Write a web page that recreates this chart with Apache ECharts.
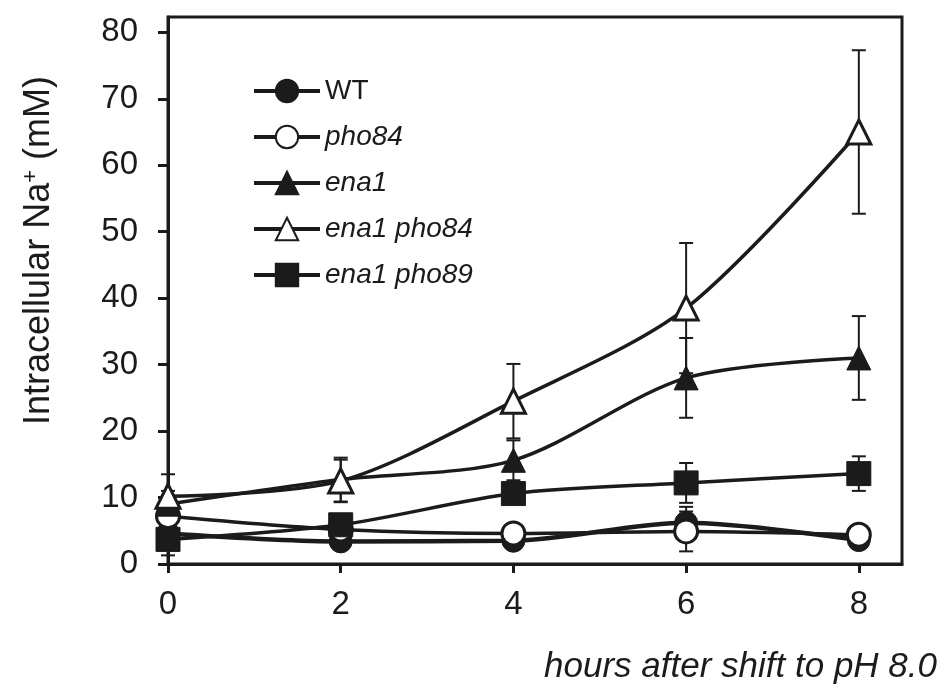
<!DOCTYPE html>
<html>
<head>
<meta charset="utf-8">
<title>Intracellular Na+</title>
<script src="https://cdn.jsdelivr.net/npm/echarts@6/dist/echarts.min.js"></script>
<style>
  html, body { margin: 0; padding: 0; background: #fff; }
  #chart { width: 941px; height: 695px; }
</style>
</head>
<body>
<div id="chart"></div>
<script>
// 数据（从图上读出来的）
const hours = [0, 2, 4, 6, 8];
const yTicks = [0, 10, 20, 30, 40, 50, 60, 70, 80];
const xTicks = [0, 2, 4, 6, 8];

const wt = [4.6, 3.4, 3.5, 6.2, 3.6];
const wtErr = [0.8, 0.5, 0.5, 2.4, 0.6];
const pho84 = [7.2, 5.2, 4.6, 4.9, 4.4];
const pho84Err = [1.0, 0.8, 0.6, 3.0, 0.6];
const ena1 = [9.0, 12.7, 15.6, 28.0, 31.0];
const ena1Err = [2.0, 3.3, 3.0, 6.0, 6.3];
const ena1pho84 = [10.2, 12.5, 24.5, 38.5, 65.0];
const ena1pho84Err = [3.3, 3.2, 5.6, 9.8, 12.3];
const ena1pho89 = [3.7, 5.9, 10.6, 12.2, 13.6];
const ena1pho89Err = [2.4, 1.0, 1.0, 3.0, 2.6];

const names = ['WT', 'pho84', 'ena1', 'ena1 pho84', 'ena1 pho89'];

const INK = '#1b1b1b';
const FONT = '"Liberation Sans", Arial, sans-serif';

// 每条线：名字、数值、误差、标记形状、是否空心
const lines = [
  { name: 'WT', vals: wt, errs: wtErr, symbol: 'circle', open: false, width: 4.5 },
  { name: 'pho84', vals: pho84, errs: pho84Err, symbol: 'circle', open: true, width: 3.5 },
  { name: 'ena1', vals: ena1, errs: ena1Err, symbol: 'triangle', open: false, width: 3.5 },
  { name: 'ena1 pho84', vals: ena1pho84, errs: ena1pho84Err, symbol: 'triangle', open: true, width: 3.5 },
  { name: 'ena1 pho89', vals: ena1pho89, errs: ena1pho89Err, symbol: 'rect', open: false, width: 3.5 }
];

function errorBar(params, api) {
  const x = api.value(0), y = api.value(1), e = api.value(2);
  const top = api.coord([x, y + e]);
  const bot = api.coord([x, y - e]);
  const hw = 7;
  const st = { stroke: INK, lineWidth: 2 };
  return {
    type: 'group',
    children: [
      { type: 'line', shape: { x1: top[0], y1: top[1], x2: bot[0], y2: bot[1] }, style: st },
      { type: 'line', shape: { x1: top[0] - hw, y1: top[1], x2: top[0] + hw, y2: top[1] }, style: st },
      { type: 'line', shape: { x1: bot[0] - hw, y1: bot[1], x2: bot[0] + hw, y2: bot[1] }, style: st }
    ]
  };
}

const series = [];
lines.forEach(function (s) {
  series.push({
    name: s.name + ' err',
    type: 'custom',
    z: 1,
    renderItem: errorBar,
    encode: { x: 0, y: 1 },
    data: hours.map(function (h, i) { return [h, s.vals[i], s.errs[i]]; }),
    silent: true
  });
});
lines.forEach(function (s) {
  series.push({
    name: s.name,
    type: 'line',
    z: 3,
    smooth: 0.3,
    symbol: s.symbol,
    symbolSize: s.symbol === 'circle' ? 23 : 24,
    showAllSymbol: true,
    lineStyle: { color: INK, width: s.width },
    itemStyle: s.open
      ? { color: '#fff', borderColor: INK, borderWidth: 3 }
      : { color: INK, borderColor: INK, borderWidth: 1 },
    data: hours.map(function (h, i) { return [h, s.vals[i]]; })
  });
});

const chart = echarts.init(document.getElementById('chart'));
chart.setOption({
  backgroundColor: '#fff',
  animation: false,
  title: {
    text: 'hours after shift to pH 8.0',
    right: 4,
    top: 650,
    padding: 0,
    textStyle: { fontFamily: FONT, fontSize: 35, fontStyle: 'italic', fontWeight: 'normal', color: INK }
  },
  legend: {
    data: names,
    orient: 'vertical',
    left: 247,
    top: 71,
    itemWidth: 66,
    itemHeight: 28,
    itemGap: 16,
    selectedMode: false,
    lineStyle: { width: 4 },
    textStyle: {
      fontFamily: FONT, fontSize: 28, color: INK, lineHeight: 30,
      rich: {
        n: { fontFamily: FONT, fontSize: 28, fontStyle: 'normal', color: INK },
        i: { fontFamily: FONT, fontSize: 28, fontStyle: 'italic', color: INK }
      }
    },
    formatter: function (name) {
      return name === 'WT' ? '{n|WT}' : '{i|' + name + '}';
    }
  },
  grid: {
    left: 168,
    top: 17,
    right: 39,
    bottom: 131,
    show: true,
    borderColor: INK,
    borderWidth: 3,
    containLabel: false
  },
  xAxis: {
    type: 'value',
    min: 0,
    max: 8.5,
    interval: 2,
    axisLine: { show: true, onZero: false, lineStyle: { color: INK, width: 3 } },
    axisTick: { show: true, length: 9, lineStyle: { color: INK, width: 3 }, customValues: xTicks },
    axisLabel: { margin: 24, fontFamily: FONT, fontSize: 33, color: INK, customValues: xTicks },
    splitLine: { show: false }
  },
  yAxis: {
    type: 'value',
    min: 0,
    max: 82.3,
    interval: 10,
    name: 'Intracellular Na{sup|+} (mM)',
    nameLocation: 'middle',
    nameRotate: 90,
    nameGap: 110,
    nameTextStyle: {
      fontFamily: FONT, fontSize: 36, color: INK, padding: [0, 0, 0, 80],
      rich: {
        sup: { fontFamily: FONT, fontSize: 22, color: INK, verticalAlign: 'bottom', padding: [0, 0, 16, 0] }
      }
    },
    axisLine: { show: true, lineStyle: { color: INK, width: 3 } },
    axisTick: { show: true, length: 10, lineStyle: { color: INK, width: 3 }, customValues: yTicks },
    axisLabel: { margin: 30, fontFamily: FONT, fontSize: 33, color: INK, customValues: yTicks },
    splitLine: { show: false }
  },
  series: series
});
</script>
</body>
</html>
